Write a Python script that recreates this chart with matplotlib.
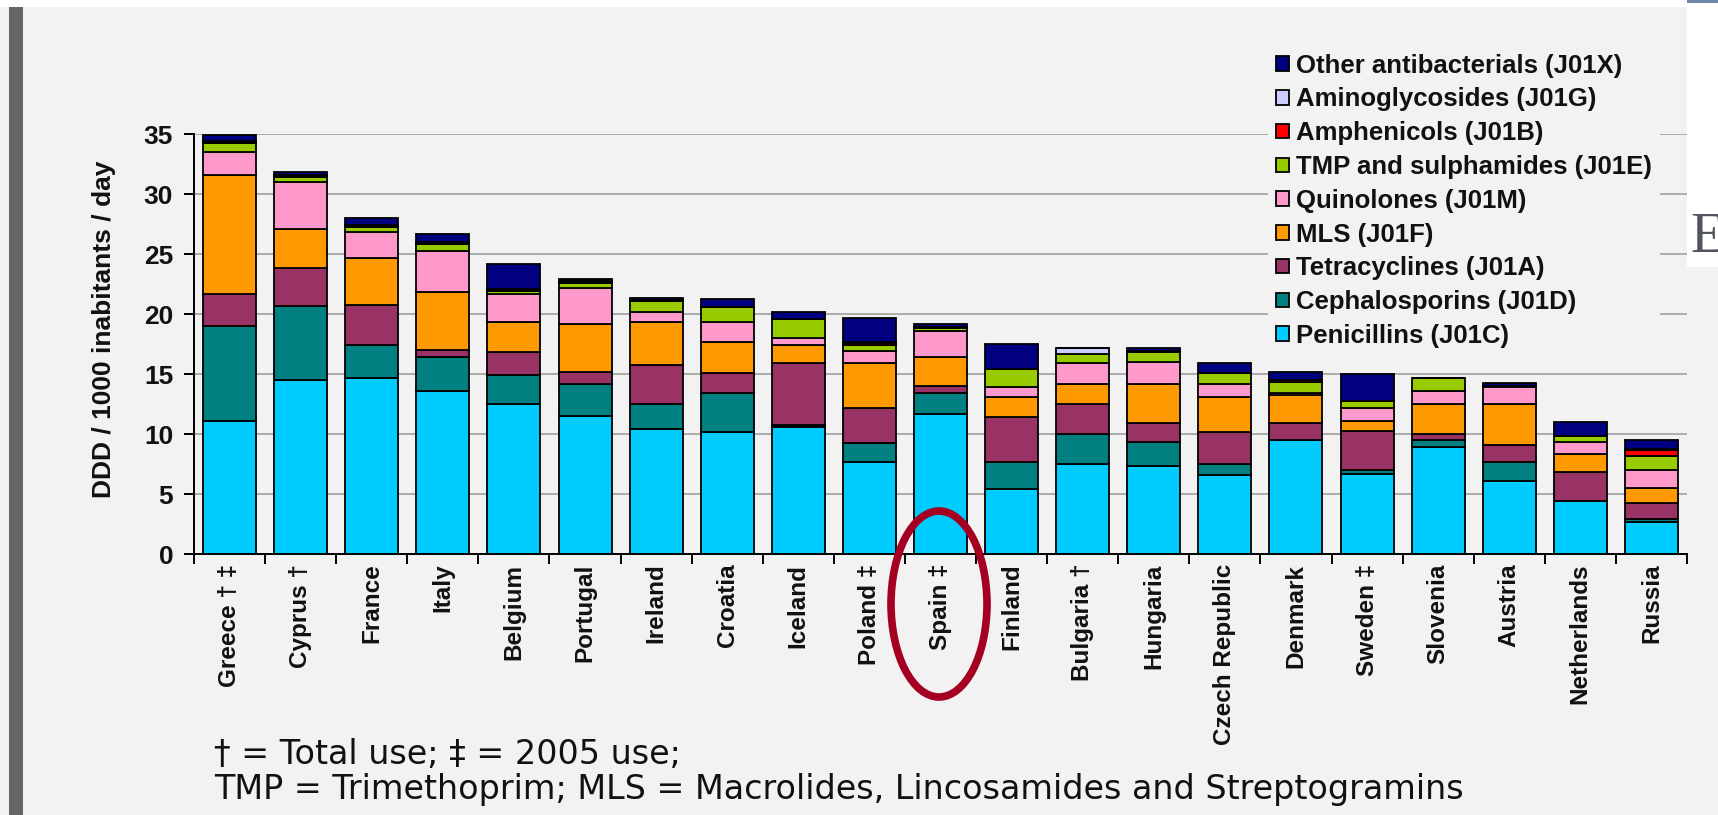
import matplotlib
matplotlib.use("Agg")
import matplotlib.pyplot as plt
from matplotlib.patches import Patch, Rectangle, Ellipse
import numpy as np

plt.rcParams['font.family'] = ['Liberation Sans', 'DejaVu Sans']

# data (DDD / 1000 inhabitants / day)
countries = ["Greece \u2020 \u2021", "Cyprus \u2020", "France", "Italy", "Belgium", "Portugal",
             "Ireland", "Croatia", "Iceland", "Poland \u2021", "Spain \u2021", "Finland",
             "Bulgaria \u2020", "Hungaria", "Czech Republic", "Denmark", "Sweden \u2021",
             "Slovenia", "Austria", "Netherlands", "Russia"]

penicillins     = [11.05, 14.5, 14.67, 13.56, 12.47, 11.53, 10.42, 10.14, 10.58, 7.64, 11.69,
                   5.44, 7.47, 7.31, 6.56, 9.47, 6.67, 8.92, 6.06, 4.39, 2.67]
cephalosporins  = [7.95, 6.22, 2.8, 2.9, 2.47, 2.64, 2.05, 3.25, 0.2, 1.58, 1.7,
                   2.23, 2.53, 2.05, 0.91, 0.0, 0.3, 0.61, 1.61, 0.05, 0.25]
tetracyclines   = [2.65, 3.17, 3.28, 0.55, 1.89, 1.0, 3.31, 1.72, 5.12, 2.95, 0.64,
                   3.72, 2.47, 1.56, 2.7, 1.45, 3.31, 0.5, 1.44, 2.36, 1.33]
mls             = [9.95, 3.25, 3.92, 4.8, 2.5, 4.02, 3.58, 2.53, 1.55, 3.72, 2.36,
                   1.72, 1.72, 3.25, 2.91, 2.3, 0.78, 2.44, 3.39, 1.53, 1.25]
quinolones      = [1.9, 3.92, 2.16, 3.42, 2.34, 2.98, 0.81, 1.69, 0.59, 1.08, 2.17,
                   0.78, 1.73, 1.86, 1.09, 0.2, 1.11, 1.09, 1.39, 0.97, 1.53]
tmp_sulpha      = [0.75, 0.41, 0.47, 0.61, 0.27, 0.47, 0.89, 1.25, 1.58, 0.47, 0.25,
                   1.55, 0.77, 0.78, 0.94, 0.91, 0.61, 1.11, 0.0, 0.56, 1.11]
amphenicols     = [0.1, 0.05, 0.05, 0.1, 0.1, 0.05, 0.05, 0.0, 0.0, 0.15, 0.1,
                   0.0, 0.0, 0.05, 0.0, 0.15, 0.0, 0.0, 0.05, 0.0, 0.5]
aminoglycosides = [0.05, 0.05, 0.05, 0.05, 0.05, 0.05, 0.05, 0.0, 0.0, 0.05, 0.05,
                   0.0, 0.45, 0.05, 0.0, 0.05, 0.0, 0.0, 0.05, 0.0, 0.1]
other           = [0.5, 0.3, 0.6, 0.7, 2.1, 0.2, 0.15, 0.67, 0.53, 2.0, 0.25,
                   2.06, 0.0, 0.3, 0.83, 0.64, 2.22, 0.0, 0.3, 1.16, 0.75]

classes = ["Penicillins (J01C)", "Cephalosporins (J01D)", "Tetracyclines (J01A)",
           "MLS (J01F)", "Quinolones (J01M)", "TMP and sulphamides (J01E)",
           "Amphenicols (J01B)", "Aminoglycosides (J01G)", "Other antibacterials (J01X)"]
series = [penicillins, cephalosporins, tetracyclines, mls, quinolones, tmp_sulpha,
          amphenicols, aminoglycosides, other]
colors = ["#00CCFF", "#008080", "#993366", "#FF9900", "#FF99CC", "#99CC00",
          "#FF0000", "#CCCCFF", "#000080"]

W, H = 1718, 815
bg = "#F2F2F2"

fig = plt.figure(figsize=(W / 100, H / 100), dpi=100, facecolor=bg)
ax = fig.add_axes([194 / W, (H - 554) / H, (1687 - 194) / W, (554 - 134.3) / H])
ax.set_facecolor(bg)

x = np.arange(len(countries))
bottom = np.zeros(len(countries))
for vals, col, name in zip(series, colors, classes):
    ax.bar(x, vals, 0.745, bottom=bottom, color=col, edgecolor="black",
           linewidth=1.3, label=name, zorder=3)
    bottom += np.array(vals)

ax.set_xlim(-0.5, len(countries) - 0.5)
ax.set_ylim(0, 35)
ax.set_yticks(range(0, 36, 5))
ax.yaxis.grid(True, color="#A6A6A6", linewidth=1.3, zorder=0)
ax.set_axisbelow(True)

for s in ["top", "right"]:
    ax.spines[s].set_visible(False)
for s in ["left", "bottom"]:
    ax.spines[s].set_linewidth(1.4)
    ax.spines[s].set_zorder(4)

ax.set_xticks(x)
ax.set_xticklabels(countries, rotation=90, fontsize=17.5, fontweight="bold", color="#111111")
ax.set_xticks(np.arange(-0.5, len(countries)), minor=True)
ax.tick_params(axis="x", which="major", length=0, pad=7)
ax.tick_params(axis="x", which="minor", length=7, width=1.4, direction="out")
ax.tick_params(axis="y", length=7, width=1.4, direction="out", pad=8,
               labelsize=19, labelcolor="#111111")
for t in ax.get_yticklabels():
    t.set_fontweight("bold")

fig.text(104 / W, (H - 329) / H, "DDD / 1000 inabitants / day", rotation=90,
         ha="center", va="center", fontsize=19, fontweight="bold", color="#111111")

handles = [Patch(facecolor=c, edgecolor="black", linewidth=1.3) for c in colors]
leg = fig.legend(handles[::-1], classes[::-1], loc="upper left",
                 bbox_to_anchor=(1268 / W, (H - 46) / H), frameon=True,
                 fontsize=18.5, handlelength=0.5, handleheight=0.5, handletextpad=0.3,
                 labelspacing=0.38, borderpad=0.3, borderaxespad=0)
leg.get_frame().set_facecolor(bg)
leg.get_frame().set_edgecolor("none")
leg.get_frame().set_alpha(1)
for t in leg.get_texts():
    t.set_fontweight("bold")
    t.set_color("#111111")

# footnotes
fig.text(214 / W, (H - 754) / H, "\u2020 = Total use; \u2021 = 2005 use;",
         ha="left", va="center", fontsize=24, family=["DejaVu Sans"], color="#111111")
fig.text(214 / W, (H - 789) / H,
         "TMP = Trimethoprim; MLS = Macrolides, Lincosamides and Streptogramins",
         ha="left", va="center", fontsize=24, family=["DejaVu Sans"], color="#111111")

# red circle around Spain
fig.patches.append(Ellipse((939 / W, (H - 604) / H), 96 / W, 186 / H,
                           transform=fig.transFigure, fill=False,
                           edgecolor="#A50021", linewidth=5.5, zorder=10))

# slide frame bits
fig.patches.append(Rectangle((0, (H - 7) / H), 1, 7 / H, transform=fig.transFigure,
                             facecolor="white", edgecolor="none", zorder=9))
fig.patches.append(Rectangle((9 / W, 0), 14 / W, (H - 7) / H, transform=fig.transFigure,
                             facecolor="#666666", edgecolor="none", zorder=9))
fig.patches.append(Rectangle((1687 / W, (H - 267) / H), 31 / W, 267 / H,
                             transform=fig.transFigure, facecolor="white",
                             edgecolor="none", zorder=9))
fig.patches.append(Rectangle((1687 / W, (H - 3) / H), 31 / W, 3 / H,
                             transform=fig.transFigure, facecolor="#6E86A8",
                             edgecolor="none", zorder=9))
fig.text(1690 / W, (H - 252) / H, "E", ha="left", va="baseline", fontsize=40,
         family=["Liberation Serif", "DejaVu Serif"], color="#505560", zorder=11)

fig.savefig("out.png", dpi=100, facecolor=bg)
